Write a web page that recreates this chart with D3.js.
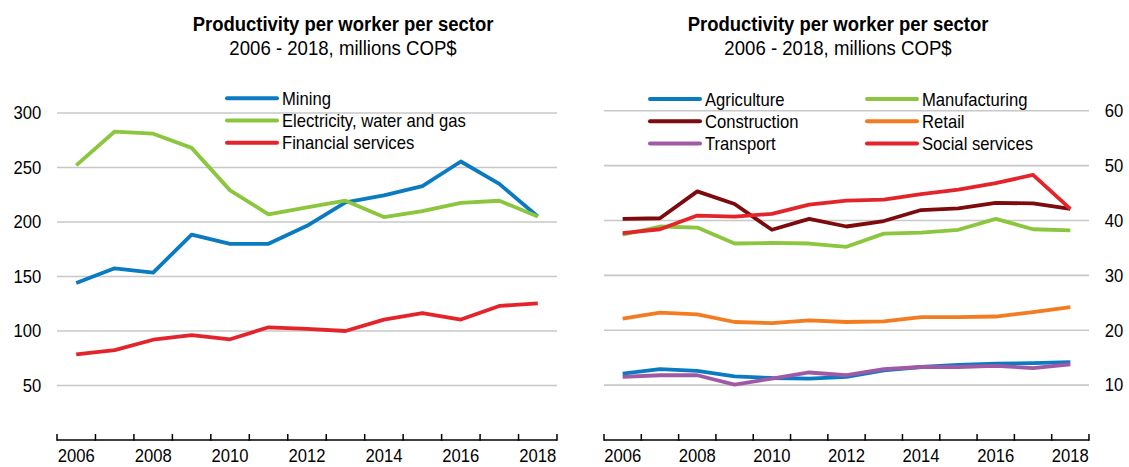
<!DOCTYPE html>
<html>
<head>
<meta charset="utf-8">
<script src="https://cdn.jsdelivr.net/npm/d3@7"></script>
<style>
  body { margin: 0; background: #fff; }
  svg { display: block; }
  text { font-family: "Liberation Sans", Arial, sans-serif; fill: #000; }
</style>
</head>
<body>
<svg id="chart" width="1129" height="467"></svg>
<script>
// Years on the horizontal axis and the labelled subset
const years = [2006, 2007, 2008, 2009, 2010, 2011, 2012, 2013, 2014, 2015, 2016, 2017, 2018];
const yearLabels = [2006, 2008, 2010, 2012, 2014, 2016, 2018];

// Vertical tick values
const leftTicks = [50, 100, 150, 200, 250, 300];
const rightTicks = [10, 20, 30, 40, 50, 60];

// Left panel series (millions COP$ per worker)
const mining      = [144, 157.5, 153.5, 188.5, 180, 180, 196.5, 218, 224.5, 233, 255.5, 235, 205];
const electricity = [252, 283, 281, 268, 229, 207, 213.5, 219.5, 204.5, 210, 217.5, 219.5, 205];
const financial   = [78.6, 82.5, 92, 96.3, 92.4, 103.4, 102, 100, 110.5, 116.5, 110.5, 123, 125.3];

// Right panel series (millions COP$ per worker)
const agriculture    = [12.1, 12.9, 12.6, 11.6, 11.3, 11.2, 11.5, 12.7, 13.3, 13.7, 13.9, 14.0, 14.2];
const manufacturing  = [37.4, 38.9, 38.7, 35.8, 35.9, 35.8, 35.2, 37.6, 37.8, 38.3, 40.3, 38.4, 38.2];
const construction   = [40.3, 40.4, 45.3, 43.0, 38.3, 40.3, 38.9, 39.9, 41.9, 42.2, 43.2, 43.1, 42.1];
const retail         = [22.1, 23.2, 22.9, 21.5, 21.3, 21.8, 21.5, 21.6, 22.4, 22.4, 22.5, 23.3, 24.2];
const transport      = [11.5, 11.8, 11.8, 10.1, 11.2, 12.3, 11.8, 12.9, 13.3, 13.3, 13.5, 13.1, 13.8];
const socialServices = [37.7, 38.4, 40.9, 40.7, 41.2, 42.9, 43.6, 43.8, 44.8, 45.6, 46.8, 48.3, 42.1];

const titleText = "Productivity per worker per sector";
const subtitleText = "2006 - 2018, millions COP$";

const C = {
  blue: "#0a7bc1", green: "#8cc63f", red: "#e3242b",
  darkred: "#7d0a0c", orange: "#f47c20", purple: "#a05aa5"
};

const leftSeries = [
  { name: "Mining", values: mining, color: C.blue },
  { name: "Electricity, water and gas", values: electricity, color: C.green },
  { name: "Financial services", values: financial, color: C.red }
];
const rightSeries = [
  { name: "Agriculture", values: agriculture, color: C.blue },
  { name: "Manufacturing", values: manufacturing, color: C.green },
  { name: "Construction", values: construction, color: C.darkred },
  { name: "Retail", values: retail, color: C.orange },
  { name: "Transport", values: transport, color: C.purple },
  { name: "Social services", values: socialServices, color: C.red }
];

const svg = d3.select("#chart");
svg.append("rect").attr("width", 1129).attr("height", 467).attr("fill", "#fff");

const FS = 18, SX = 0.925;      // body text size and horizontal condensing
const GRID = "#c8c8c8";

// place a condensed text at (x, y)
function label(g, x, y, str, opts = {}) {
  const sx = opts.sx || SX;
  return g.append("text")
    .attr("transform", `translate(${x},${y}) scale(${sx},1)`)
    .attr("text-anchor", opts.anchor || "start")
    .style("font-size", (opts.size || FS) + "px")
    .style("font-weight", opts.bold ? "bold" : "normal")
    .text(str);
}

function panel(cfg) {
  const g = svg.append("g");
  const x = d3.scaleBand().domain(years).range(cfg.xRange).padding(0);
  const y = d3.scaleLinear().domain(cfg.yDomain).range([440, cfg.yTop]);
  const cx = d => x(d) + x.bandwidth() / 2;

  // titles
  label(g, cfg.titleX, 31, titleText, { anchor: "middle", bold: true, size: 21, sx: 0.88 });
  label(g, cfg.titleX, 55, subtitleText, { anchor: "middle", size: 20, sx: 0.93 });

  // gridlines
  g.append("g").selectAll("line").data(cfg.ticks).join("line")
    .attr("x1", cfg.xRange[0]).attr("x2", cfg.xRange[1])
    .attr("y1", d => y(d)).attr("y2", d => y(d))
    .attr("stroke", GRID).attr("stroke-width", 1.6);

  // value axis labels
  const yAxis = (cfg.side === "left" ? d3.axisLeft(y) : d3.axisRight(y))
    .tickValues(cfg.ticks).tickSize(0).tickPadding(cfg.pad);
  const ya = g.append("g")
    .attr("transform", `translate(${cfg.side === "left" ? cfg.xRange[0] : cfg.xRange[1]},0)`)
    .call(yAxis);
  ya.select(".domain").remove();
  ya.selectAll("text").style("font-size", FS + "px").style("font-family", null)
    .attr("transform", `scale(${SX},1)`);
  ya.attr("font-family", null).attr("font-size", null);

  // year axis: baseline, boundary ticks pointing up, labels centred in bands
  const xa = g.append("g").attr("transform", "translate(0,440)");
  xa.append("line").attr("x1", cfg.xRange[0]).attr("x2", cfg.xRange[1])
    .attr("stroke", "#000").attr("stroke-width", 1.5);
  const bounds = years.map(d => x(d)).concat([cfg.xRange[1]]);
  xa.selectAll("line.tk").data(bounds).join("line").attr("class", "tk")
    .attr("x1", d => d).attr("x2", d => d).attr("y1", 0.75).attr("y2", -6)
    .attr("stroke", "#000").attr("stroke-width", 1.5);
  const xAxis = d3.axisBottom(x).tickValues(yearLabels).tickSize(0).tickPadding(8);
  const xl = g.append("g").attr("transform", "translate(0,441)").call(xAxis);
  xl.select(".domain").remove();
  xl.attr("font-family", null).attr("font-size", null);
  xl.selectAll("text").style("font-size", FS + "px").attr("transform", `scale(${SX},1)`);

  // series lines
  const line = d3.line().x((d, i) => cx(years[i])).y(d => y(d));
  g.append("g").selectAll("path").data(cfg.series).join("path")
    .attr("d", s => line(s.values))
    .attr("fill", "none").attr("stroke", s => s.color)
    .attr("stroke-width", 3.8).attr("stroke-linejoin", "round");

  // legend
  const lg = g.append("g");
  cfg.series.forEach((s, i) => {
    const col = i % cfg.legendCols, row = Math.floor(i / cfg.legendCols);
    const lx = cfg.legendX + col * cfg.legendColW;
    const ly = cfg.legendY + row * 22.2;
    lg.append("line").attr("x1", lx).attr("x2", lx + 50).attr("y1", ly).attr("y2", ly)
      .attr("stroke", s.color).attr("stroke-width", 4).attr("stroke-linecap", "round");
    label(lg, lx + 55, ly + 6.5, s.name);
  });
}

panel({
  xRange: [57, 557], yDomain: [0, 300], yTop: 113, ticks: leftTicks,
  side: "left", pad: 17, titleX: 343, series: leftSeries,
  legendX: 227, legendY: 98.3, legendCols: 1, legendColW: 0
});
panel({
  xRange: [604, 1089], yDomain: [0, 60], yTop: 110.7, ticks: rightTicks,
  side: "right", pad: 17, titleX: 838, series: rightSeries,
  legendX: 650, legendY: 99, legendCols: 2, legendColW: 217
});
</script>
</body>
</html>
